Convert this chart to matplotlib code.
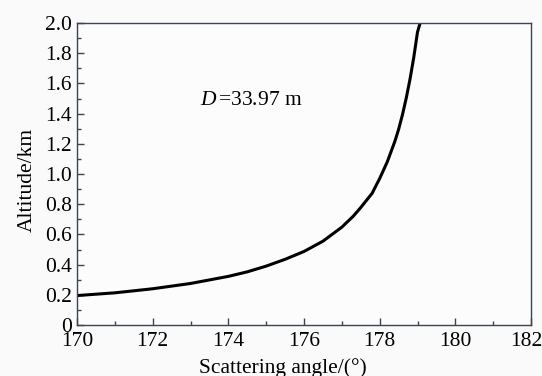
import matplotlib
matplotlib.use("Agg")
import matplotlib.pyplot as plt
from matplotlib.ticker import MultipleLocator

plt.rcParams['font.family'] = ['Liberation Serif', 'DejaVu Serif']
plt.rcParams['mathtext.fontset'] = 'custom'
plt.rcParams['mathtext.it'] = 'Liberation Serif:italic'
plt.rcParams['mathtext.rm'] = 'Liberation Serif'

angle = [170, 171, 172, 173, 174, 174.5, 175, 175.5, 176, 176.5, 177, 177.3, 177.5,
         177.8, 178, 178.2, 178.4, 178.5, 178.6, 178.7, 178.8, 178.9, 178.95, 179.0, 179.07]
altitude = [0.195, 0.213, 0.24, 0.275, 0.322, 0.352, 0.39, 0.435, 0.487, 0.555, 0.648,
            0.72, 0.778, 0.872, 0.97, 1.08, 1.215, 1.295, 1.39, 1.50, 1.625, 1.77,
            1.855, 1.94, 2.0]

xticks = [170, 172, 174, 176, 178, 180, 182]
yticks = [0, 0.2, 0.4, 0.6, 0.8, 1.0, 1.2, 1.4, 1.6, 1.8, 2.0]
ytick_labels = ['0', '0.2', '0.4', '0.6', '0.8', '1.0', '1.2', '1.4', '1.6', '1.8', '2.0']

FS = 15.5

fig = plt.figure(figsize=(5.42, 3.76), dpi=100, facecolor='#fafafa')
ax = fig.add_axes([77/542, 1-325/376, (531-77)/542, (325-23)/376])
ax.set_facecolor('#fcfcfc')
ax.plot(angle, altitude, color='black', lw=2.2, solid_joinstyle='round')

ax.set_xlim(170, 182)
ax.set_ylim(0, 2.0)
ax.set_xticks(xticks)
xlabels = [str(t) for t in xticks]
ax.set_xticklabels(xlabels[:-1] + [''])
ax.set_yticks(yticks)
ax.set_yticklabels(ytick_labels)
ax.xaxis.set_minor_locator(MultipleLocator(1))
ax.yaxis.set_minor_locator(MultipleLocator(0.1))
ax.tick_params(which='both', direction='in', top=False, right=False,
               labelsize=FS, color='#3c4450')
ax.tick_params(which='major', length=5, width=1)
ax.tick_params(which='minor', length=3, width=1)
ax.tick_params(axis='x', pad=5)
ax.tick_params(axis='y', pad=3.5)
for s in ax.spines.values():
    s.set_color('#3c4450')
    s.set_linewidth(1)

# last x tick label, nudged left so it stays inside the figure
ax.annotate(xlabels[-1], xy=(xticks[-1], 0), xycoords=('data', 'axes fraction'),
            xytext=(-3.5, -5), textcoords='offset points',
            ha='center', va='top', fontsize=FS)

ax.set_xlabel('Scattering angle/(°)', fontsize=FS, labelpad=5)
ax.xaxis.label.set_x(0.453)
ax.set_ylabel('Altitude/km', fontsize=FS, labelpad=6)
ax.yaxis.label.set_y(0.48)
ax.text(173.25, 1.49, r'$\mathit{D}\,$=33.97 m', fontsize=FS, ha='left', va='center')

fig.savefig('out.png', dpi=100, facecolor=fig.get_facecolor())
